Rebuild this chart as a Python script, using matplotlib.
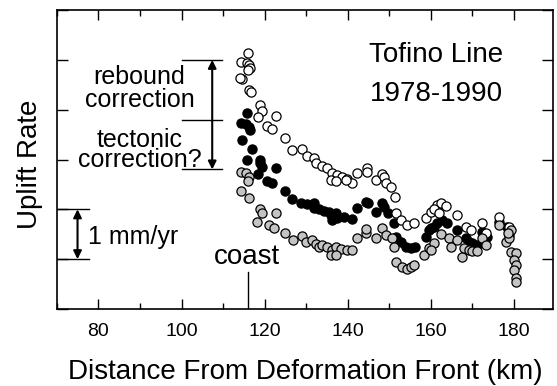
import matplotlib
matplotlib.use("Agg")
import matplotlib.pyplot as plt
from matplotlib.ticker import MultipleLocator
import numpy as np

plt.rcParams['font.family'] = ['Liberation Sans', 'DejaVu Sans']

# uplift rate after rebound correction (open circles)
open_km = [116.1, 114.4, 115.8, 116.3, 116.5, 116.1, 114.6, 114.1, 116.3, 116.8,
           118.9, 119.4, 118.5, 122.8, 120.6, 121.8, 125.0, 126.6, 129.0, 130.2,
           131.9, 132.4, 133.8, 135.0, 136.3, 137.5, 138.7, 139.9, 141.1, 136.0,
           137.2, 139.6, 142.3, 144.7, 144.7, 146.8, 148.3, 148.8, 149.2, 150.4,
           151.4, 151.6, 152.8, 154.3, 156.0, 158.8, 160.0, 161.5, 162.5, 163.7,
           160.8, 162.0, 166.3, 168.5, 169.7, 172.3, 173.3, 176.4, 178.8]
open_rate = [4.14, 3.96, 3.94, 3.90, 3.84, 3.80, 3.62, 3.64, 3.40, 3.36,
             3.10, 2.98, 2.86, 2.88, 2.68, 2.62, 2.44, 2.20, 2.22, 2.08,
             2.04, 1.94, 1.86, 1.82, 1.72, 1.68, 1.64, 1.60, 1.52, 1.58,
             1.56, 1.58, 1.72, 1.82, 1.74, 1.58, 1.70, 1.64, 1.52, 1.44,
             1.24, 0.92, 0.78, 0.68, 0.72, 0.82, 0.94, 1.08, 1.12, 1.06,
             1.00, 0.92, 0.88, 0.64, 0.58, 0.72, 0.52, 0.84, 0.64]

# observed uplift rate (filled circles)
obs_km = [115.8, 114.4, 115.6, 116.3, 116.5, 114.6, 117.0, 115.8, 118.9, 118.9,
          119.4, 118.5, 122.8, 120.6, 121.8, 125.0, 126.6, 128.8, 130.2, 131.9,
          131.9, 133.1, 134.3, 135.5, 136.0, 136.3, 137.5, 137.2, 139.1, 141.1,
          142.3, 144.4, 144.9, 146.8, 148.3, 148.8, 149.7, 151.2, 151.6, 152.8,
          154.0, 155.2, 156.2, 158.8, 160.0, 161.5, 162.7, 160.8, 163.9, 159.6,
          166.3, 168.5, 169.2, 169.9, 171.1, 172.3, 173.5, 176.6, 178.3, 178.8]
obs_rate = [2.94, 2.74, 2.72, 2.66, 2.60, 2.40, 2.22, 2.00, 2.00, 1.94,
            1.84, 1.70, 1.82, 1.56, 1.52, 1.36, 1.20, 1.12, 1.10, 1.12,
            1.02, 1.00, 0.96, 0.94, 0.88, 0.78, 0.82, 0.92, 0.84, 0.80,
            1.02, 1.14, 1.12, 0.94, 1.12, 1.04, 0.92, 0.72, 0.44, 0.34,
            0.24, 0.22, 0.24, 0.44, 0.62, 0.72, 0.78, 0.64, 0.72, 0.58,
            0.58, 0.42, 0.34, 0.32, 0.28, 0.54, 0.44, 0.74, 0.64, 0.48]

# after tectonic correction (grey circles)
tect_km = [114.4, 115.6, 116.3, 116.1, 114.4, 116.3, 118.9, 119.4, 118.2, 122.8,
           121.1, 122.3, 125.0, 126.9, 129.0, 130.0, 131.4, 132.4, 133.1, 133.8,
           135.0, 136.3, 137.2, 138.4, 139.9, 141.1, 136.0, 137.2, 142.3, 144.4,
           144.4, 146.8, 148.3, 149.2, 150.7, 151.2, 151.6, 153.1, 154.3, 155.2,
           156.0, 158.4, 159.6, 160.8, 160.0, 162.5, 164.4, 164.9, 166.3, 167.5,
           168.0, 169.2, 169.9, 171.1, 172.3, 173.3, 176.6, 178.1, 178.8, 179.3,
           178.6, 179.5, 180.7, 180.2, 180.7, 180.0, 180.5, 180.7]
tect_rate = [1.74, 1.72, 1.64, 1.56, 1.36, 1.22, 1.00, 0.92, 0.74, 0.92,
             0.68, 0.62, 0.52, 0.38, 0.46, 0.34, 0.38, 0.30, 0.24, 0.28,
             0.24, 0.18, 0.24, 0.20, 0.18, 0.18, 0.08, 0.08, 0.42, 0.52,
             0.60, 0.42, 0.62, 0.48, 0.42, 0.24, -0.06, -0.16, -0.20, -0.16,
             -0.12, 0.08, 0.22, 0.32, 0.18, 0.50, 0.42, 0.24, 0.38, 0.04,
             0.22, 0.18, 0.16, 0.16, 0.42, 0.28, 0.68, 0.34, 0.42, 0.58,
             0.52, 0.14, 0.12, -0.02, -0.12, -0.22, -0.38, -0.46]

coast_km = 116.1

fig = plt.figure(figsize=(5.57, 3.86), dpi=100)
ax = fig.add_axes([0.1023, 0.1995, 0.8905, 0.7745])

mk = dict(marker='o', ms=6.6, mew=0.9, mec='black', ls='none')
ax.plot(obs_km, obs_rate, mfc='black', zorder=3, **mk)
ax.plot(open_km, open_rate, mfc='white', zorder=4, **mk)
ax.plot(tect_km, tect_rate, mfc='#c4c4c4', zorder=5, **mk)

ax.set_xlim(70, 189.5)
ax.set_ylim(-1, 5)
ax.xaxis.set_major_locator(MultipleLocator(20))
ax.xaxis.set_minor_locator(MultipleLocator(10))
ax.yaxis.set_major_locator(MultipleLocator(1))
ax.set_yticklabels([])
ax.tick_params(axis='x', which='major', direction='in', length=7, width=1,
               top=True, labelsize=14, pad=10)
ax.tick_params(axis='x', which='minor', direction='in', length=4.5, width=1, top=True)
ax.tick_params(axis='y', direction='in', length=8, width=1, right=True)
for s in ax.spines.values():
    s.set_linewidth(1.2)

ax.set_xlabel('Distance From Deformation Front (km)', fontsize=20, labelpad=14)
ax.text(-0.0403, 0.485, 'Uplift Rate', transform=ax.transAxes, rotation=90,
        rotation_mode='anchor', ha='center', va='baseline', fontsize=20)

# coast marker
ax.plot([coast_km, coast_km], [-1, -0.26], color='black', lw=1)
ax.text(115.8, -0.10, 'coast', ha='center', va='baseline', fontsize=20)

# 1 mm/yr scale bar
ax.plot([70, 77.8], [1, 1], color='black', lw=1)
ax.plot([70, 77.8], [0, 0], color='black', lw=1)
ax.annotate('', xy=(74.95, 1), xytext=(74.95, 0),
            arrowprops=dict(arrowstyle='<|-|>', color='black', lw=1.5,
                            mutation_scale=12, shrinkA=0, shrinkB=0))
ax.text(77.4, 0.30, '1 mm/yr', ha='left', va='baseline', fontsize=18)

# correction brackets
for yv in [4.0, 2.8, 1.8]:
    ax.plot([100, 109.8], [yv, yv], color='black', lw=1)
ax.annotate('', xy=(107.4, 4.0), xytext=(107.4, 1.8),
            arrowprops=dict(arrowstyle='<|-|>', color='black', lw=1.5,
                            mutation_scale=12, shrinkA=0, shrinkB=0))
ax.text(89.9, 3.06, 'rebound\ncorrection', ha='center', va='baseline',
        multialignment='center', fontsize=18, linespacing=0.95)
ax.text(89.95, 1.84, 'tectonic\ncorrection?', ha='center', va='baseline',
        multialignment='center', fontsize=18, linespacing=0.82)

ax.text(161.3, 3.96, 'Tofino Line', ha='center', va='baseline', fontsize=20)
ax.text(161.3, 3.18, '1978-1990', ha='center', va='baseline', fontsize=20)

fig.savefig('out.png', dpi=100)
